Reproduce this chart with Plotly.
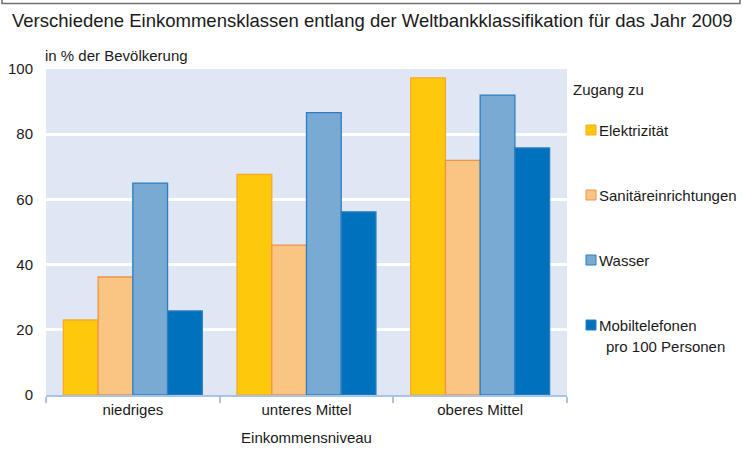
import plotly.graph_objects as go

categories = ["niedriges", "unteres Mittel", "oberes Mittel"]
series_names = ["Elektrizität", "Sanitäreinrichtungen", "Wasser", "Mobiltelefonen"]
legend_labels = ["Elektrizität", "Sanitäreinrichtungen", "Wasser", "Mobiltelefonen"]
elektrizitaet = [23, 67.7, 97.3]
sanitaer = [36.2, 46, 72]
wasser = [65, 86.6, 92]
mobil = [25.8, 56.2, 75.8]
y_ticks = [0, 20, 40, 60, 80, 100]

values = [elektrizitaet, sanitaer, wasser, mobil]
fills = ["#FEC90D", "#F8C582", "#79AAD4", "#0071BC"]
lines = ["#F7A82A", "#F0914A", "#2E7DC2", "#2A7FC4"]

W, H = 743, 450
L, R, T, B = 46, 176, 69, 55
PW, PH = W - L - R, H - T - B

def px(x):
    return (x - L) / PW

def py(y):
    return (H - B - y) / PH

FONT = "Liberation Sans, Arial, sans-serif"

fig = go.Figure()
for name, vals, fc, lc in zip(series_names, values, fills, lines):
    fig.add_trace(go.Bar(
        x=categories, y=vals, name=name,
        marker=dict(color=fc, line=dict(color=lc, width=1.3)),
        showlegend=False,
    ))

fig.update_layout(
    width=W, height=H,
    margin=dict(l=L, r=R, t=T, b=B, pad=0, autoexpand=False),
    paper_bgcolor="white",
    plot_bgcolor="#E0E7F4",
    barmode="group",
    bargap=0.2,
    bargroupgap=0,
    font=dict(family=FONT, size=15, color="#1a1a1a"),
    xaxis=dict(
        tickson="boundaries", ticks="outside", ticklen=6, tickwidth=1.5,
        tickcolor="#A9C3E8", showline=True, linecolor="#A9C3E8", linewidth=1.5,
        showgrid=False, automargin=False,
        tickfont=dict(size=15),
        title=dict(text="Einkommensniveau", font=dict(size=15), standoff=16),
    ),
    yaxis=dict(
        range=[0, 100], tickvals=y_ticks, ticktext=[str(v) for v in y_ticks],
        showgrid=True, gridcolor="white", gridwidth=3, zeroline=False,
        showline=False, ticks="", ticklabelstandoff=12, automargin=False,
        tickfont=dict(size=15),
    ),
)

ann = []
ann.append(dict(text="Verschiedene Einkommensklassen entlang der Weltbankklassifikation für das Jahr 2009",
                x=px(10), y=py(21), xref="paper", yref="paper", xanchor="left", yanchor="middle",
                showarrow=False, font=dict(size=18.5)))
ann.append(dict(text="in % der Bevölkerung", x=px(43), y=py(55), xref="paper", yref="paper",
                xanchor="left", yanchor="middle", showarrow=False, font=dict(size=15)))
ann.append(dict(text="Zugang zu", x=px(571), y=py(89), xref="paper", yref="paper",
                xanchor="left", yanchor="middle", showarrow=False, font=dict(size=15)))

shapes = []
centers = [130, 195, 260, 325]
for label, fc, lc, cy in zip(legend_labels, fills, lines, centers):
    shapes.append(dict(type="rect", xref="paper", yref="paper",
                       x0=px(586), x1=px(596), y0=py(cy + 5), y1=py(cy - 5),
                       fillcolor=fc, line=dict(color=lc, width=1)))
    ann.append(dict(text=label, x=px(597), y=py(cy), xref="paper", yref="paper",
                    xanchor="left", yanchor="middle", showarrow=False, font=dict(size=15)))
ann.append(dict(text="pro 100 Personen", x=px(604), y=py(346), xref="paper", yref="paper",
                xanchor="left", yanchor="middle", showarrow=False, font=dict(size=15)))

# frame fragment at top (bottom edge of a box above)
shapes.append(dict(type="path", xref="paper", yref="paper",
                   path="M {:.5f} {:.5f} L {:.5f} {:.5f} L {:.5f} {:.5f} L {:.5f} {:.5f}".format(
                       px(2), py(0), px(2), py(3.5), px(740), py(3.5), px(740), py(0)),
                   line=dict(color="#707070", width=1.5)))

fig.update_layout(annotations=ann, shapes=shapes)
fig.write_html("out.html", config={"displayModeBar": False},
               post_script="document.body.style.margin='0px';document.body.style.overflow='hidden';")
